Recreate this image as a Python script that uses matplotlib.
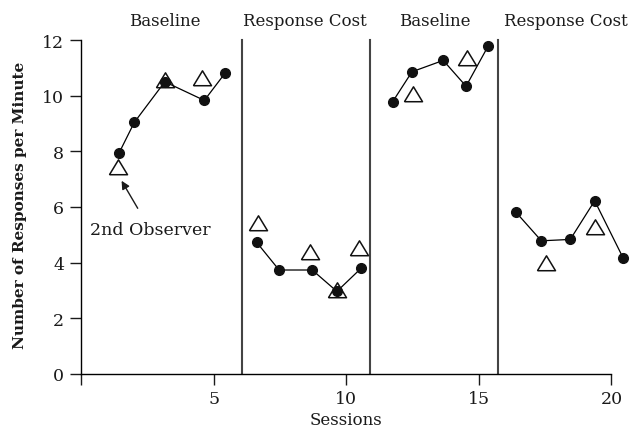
import matplotlib
matplotlib.use("Agg")
import matplotlib.pyplot as plt

plt.rcParams['font.family'] = ['DejaVu Serif']

# Data (session position, responses per minute)
p1_x = [1.43, 2.01, 3.16, 4.65, 5.44]
p1_y = [7.93, 9.04, 10.5, 9.83, 10.82]
p1_tx = [1.38, 3.16, 4.55]
p1_ty = [7.42, 10.55, 10.63]

p2_x = [6.62, 7.47, 8.72, 9.65, 10.56]
p2_y = [4.73, 3.73, 3.73, 2.96, 3.79]
p2_tx = [6.66, 8.65, 9.65, 10.47]
p2_ty = [5.41, 4.37, 3.02, 4.51]

p3_x = [11.75, 12.48, 13.66, 14.52, 15.35]
p3_y = [9.78, 10.86, 11.27, 10.34, 11.78]
p3_tx = [12.53, 14.54]
p3_ty = [10.05, 11.35]

p4_x = [16.4, 17.36, 18.45, 19.37, 20.45]
p4_y = [5.81, 4.78, 4.83, 6.22, 4.15]
p4_tx = [17.55, 19.39]
p4_ty = [4.0, 5.27]

phase_lines = [6.07, 10.9, 15.74]
phase_labels = ["Baseline", "Response Cost", "Baseline", "Response Cost"]
phase_label_x = [3.17, 8.45, 13.35, 18.3]

xticks = [0, 5, 10, 15, 20]
xticklabels = ["", "5", "10", "15", "20"]
yticks = [0, 2, 4, 6, 8, 10, 12]

fig = plt.figure(figsize=(6.34, 4.31), dpi=100)
ax = fig.add_axes([81/634, (431-374.7)/431, 551.6/634, 12.2*27.8/431])
ax.set_xlim(0, 20.8)
ax.set_ylim(0, 12.2)

# flattened open triangle marker (slightly wider than tall)
tri = [(-1.0, -0.8), (1.0, -0.8), (0.0, 0.85), (-1.0, -0.8)]

for xs, ys in [(p1_x, p1_y), (p2_x, p2_y), (p3_x, p3_y), (p4_x, p4_y)]:
    ax.plot(xs, ys, color='black', lw=0.9, marker='o', markersize=7,
            markerfacecolor='#111111', markeredgecolor='#111111', zorder=3)
for xs, ys in [(p1_tx, p1_ty), (p2_tx, p2_ty), (p3_tx, p3_ty), (p4_tx, p4_ty)]:
    ax.plot(xs, ys, linestyle='none', marker=tri, markersize=13,
            markerfacecolor='none', markeredgecolor='#111111', markeredgewidth=1.1, zorder=4)

for px in phase_lines:
    ax.plot([px, px], [0, 12], color='#444444', lw=1.5, zorder=1)

for lx, lab in zip(phase_label_x, phase_labels):
    ax.text(lx, 12.69, lab, ha='center', va='center', fontsize=12, color='#1a1a1a')

ax.annotate("2nd Observer", xy=(1.53, 6.94), xytext=(2.6, 5.2),
            ha='center', va='center', fontsize=12.5, color='#1a1a1a',
            arrowprops=dict(arrowstyle='-|>', color='#1a1a1a', lw=1.0,
                            shrinkA=8, shrinkB=0, mutation_scale=12))

for s in ['top', 'right']:
    ax.spines[s].set_visible(False)
ax.spines['left'].set_bounds(0, 12)
ax.spines['bottom'].set_bounds(0, 20)
ax.spines['left'].set_linewidth(1.0)
ax.spines['bottom'].set_linewidth(1.0)

ax.set_xticks(xticks)
ax.set_xticklabels(xticklabels)
ax.set_yticks(yticks)
ax.tick_params(axis='both', direction='out', length=8, width=1.0, labelsize=12.5,
               colors='#1a1a1a', pad=4)

ax.set_ylabel("Number of Responses per Minute", fontsize=11, fontweight='bold',
              color='#1a1a1a', labelpad=11)
ax.text(10, -1.65, "Sessions", ha='center', va='center', fontsize=12, color='#1a1a1a')

fig.savefig("out.png", dpi=100)
